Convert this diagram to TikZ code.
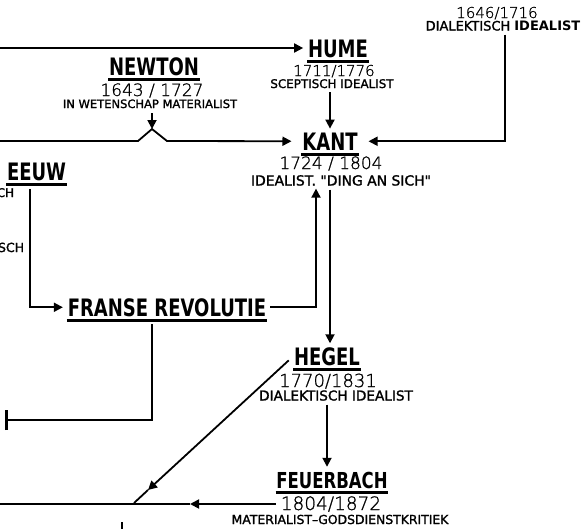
\documentclass[tikz,border=0pt]{standalone}
\usepackage{fontspec}
\setmainfont{DejaVu Sans}
\newfontfamily\namefont{DejaVu Sans}[FakeStretch=0.75]
\newfontfamily\datefont{DejaVu Sans ExtraLight}[FakeBold=1]
\newfontfamily\descfont{DejaVu Sans}[FakeBold=1.5]
\usetikzlibrary{arrows.meta}

\tikzset{
  thinker/.style={font=\namefont\bfseries\fontsize{#1}{#1}\selectfont, inner sep=0pt, anchor=base},
  thinker/.default=24,
  years/.style={font=\datefont\fontsize{#1}{#1}\selectfont, inner sep=0pt, anchor=base},
  desc/.style={font=\descfont\fontsize{#1}{#1}\selectfont, inner sep=0pt, anchor=base},
  arr/.style={-{Triangle[length=9pt,width=9pt]}},
  uline/.style={line width=3pt}
}

\begin{document}
\begin{tikzpicture}[x=1pt, y=-1pt, line width=1.8pt]
  \useasboundingbox (0,0) rectangle (583,528);

  \node[years=15] (leiby) at (497,18) {1646/1716};
  \node[desc=13] (leibs) at (503,30.5) {DIALEKTISCH {\setmainfont{DejaVu Sans}\bfseries IDEALIST}};

  \node[thinker] (hume) at (338,57) {HUME};
  \node[years=15] (humey) at (334,76) {1711/1776};
  \node[desc=11.9] (humes) at (332,88) {SCEPTISCH IDEALIST};

  \node[thinker] (newton) at (154,75) {NEWTON};
  \node[years=17] (newtony) at (152,96) {1643 / 1727};
  \node[desc=11.5] (newtons) at (150,108) {IN WETENSCHAP MATERIALIST};

  \node[thinker] (kant) at (330,150) {KANT};
  \node[years=17] (kanty) at (331,169) {1724 / 1804};
  \node[desc=13.9] (kants) at (341,185.5) {IDEALIST. "DING AN SICH"};

  \node[thinker, anchor=base east] (eeuw) at (67,180) {EEUW};
  \node[desc=12, anchor=base east] (eeuwa) at (15,197) {SCH};
  \node[desc=12.5, anchor=base east] (eeuwb) at (25,252) {SCH};

  \node[thinker] (revolutie) at (167,316) {FRANSE REVOLUTIE};

  \node[thinker] (hegel) at (327,365) {HEGEL};
  \node[years=18] (hegely) at (328,387) {1770/1831};
  \node[desc=13.6] (hegels) at (336,400.5) {DIALEKTISCH IDEALIST};

  \node[thinker=22] (feuerbach) at (332,488) {FEUERBACH};
  \node[years=18.5] (feuerbachy) at (331,510) {1804/1872};
  \node[desc=12.4] (feuerbachs) at (340,524) {MATERIALIST–GODSDIENSTKRITIEK};

  \foreach \n in {hume,newton,kant,eeuw,revolutie,hegel,feuerbach}
    \draw[uline] ([yshift=-4pt]\n.base west) -- ([yshift=-4pt]\n.base east);

  \coordinate (topin) at (0,48);
  \draw[arr, shorten >=4pt] (topin) -- (topin -| hume.west);
  \draw[arr, shorten <=3pt, shorten >=3pt] (kant.north |- humes.south) -- (kant.north);

  \coordinate (peak) at (152,129);
  \coordinate (leftin) at (0,141);
  \coordinate (xl) at (138,141);
  \coordinate (xr) at (167,141);
  \draw[arr, shorten <=4pt] (newtons.south -| peak) -- (peak);
  \draw[arr, shorten >=10pt] (leftin) -- (xl) -- (peak) -- (xr) -- (kant.west);

  \coordinate (lbend) at (505,0);
  \draw[arr, shorten <=3pt, shorten >=10pt] (leibs.south -| lbend) -- (lbend |- kant.east) -- (kant.east);

  \coordinate (ebend) at (30,0);
  \draw[arr, shorten <=8pt, shorten >=4pt] (eeuw.south -| ebend) -- (ebend |- revolutie.west) -- (revolutie.west);

  \coordinate (rbend) at (316,0);
  \draw[arr, shorten <=3pt, shorten >=2pt] (revolutie.east) -- (revolutie.east -| rbend) -- (rbend |- kants.south);
  \draw[arr, shorten <=3pt, shorten >=3pt] (kant.south |- kants.south) -- (kant.south |- hegel.north);

  \coordinate (rdown) at (152,420);
  \coordinate (rend) at (5,420);
  \draw[-{Bar[width=20pt, line width=3pt]}, shorten <=7pt] (revolutie.south -| rdown) -- (rdown) -- (rend);

  \draw[arr, shorten <=3pt, shorten >=4pt] (hegel.south |- hegels.south) -- (hegel.south |- feuerbach.north);

  \coordinate (dtip) at (148,490);
  \coordinate (dend) at (134,503);
  \draw[arr, shorten <=6pt] (hegel.west) -- (dtip);
  \draw (dtip) -- (dend);

  \coordinate (ftip) at (190,0);
  \coordinate (fend) at (0,0);
  \draw[arr, shorten <=4pt] (feuerbachy.west) -- (feuerbachy.west -| ftip);
  \draw (feuerbachy.west -| ftip) -- (feuerbachy.west -| fend);

  \draw (122,522) -- (122,530);
\end{tikzpicture}
\end{document}
